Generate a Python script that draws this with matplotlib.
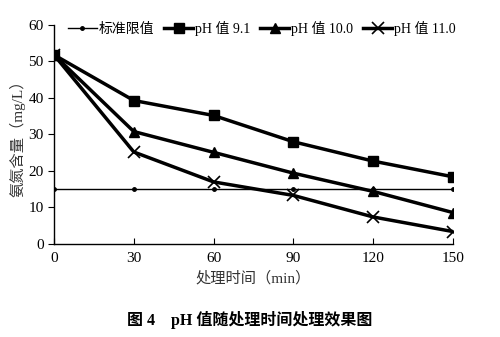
import numpy as np
import matplotlib.pyplot as plt

plt.rcParams['font.family'] = ['Liberation Serif', 'Noto Sans CJK SC']

times = [0, 30, 60, 90, 120, 150]
limit = [15, 15, 15, 15, 15, 15]
ph91 = [51.8, 39.3, 35.2, 28.0, 22.7, 18.4]
ph100 = [51.8, 30.8, 25.1, 19.4, 14.4, 8.6]
ph110 = [51.8, 25.2, 17.0, 13.3, 7.4, 3.4]

fig = plt.figure(figsize=(5, 3.37), dpi=100)
ax = fig.add_axes([0.108, 0.276, 0.798, 0.65])

ax.plot(times, limit, color='black', lw=1.0, marker='.', ms=5, label='标准限值')
ax.plot(times, ph91, color='black', lw=2.5, marker='s', ms=7.5, label='pH 值 9.1')
ax.plot(times, ph100, color='black', lw=2.5, marker='^', ms=7.5, label='pH 值 10.0')
ax.plot(times, ph110, color='black', lw=2.5, marker='x', ms=8, mew=1.2, label='pH 值 11.0')

ax.set_xlim(0, 150)
ax.set_ylim(0, 60)
ax.set_xticks(times)
ax.set_yticks(range(0, 61, 10))
ax.tick_params(axis='x', direction='in', length=4, labelsize=11, pad=6)
ax.tick_params(axis='y', direction='out', length=4, labelsize=11)
ax.spines['top'].set_visible(False)
ax.spines['right'].set_visible(False)
for s in ('left', 'bottom'):
    ax.spines[s].set_linewidth(1.0)

ax.set_xlabel('处理时间（min）', fontsize=11, color='#333333', labelpad=4)
ax.set_ylabel('氨氮含量（mg/L）', fontsize=11, color='#333333', labelpad=2)

ax.legend(loc='upper left', bbox_to_anchor=(0.02, 1.045), ncol=4, frameon=False,
          fontsize=10, handlelength=2.1, handletextpad=0.15, columnspacing=0.7,
          borderaxespad=0)

fig.text(0.5, 0.035, '图 4    pH 值随处理时间处理效果图', ha='center', fontsize=11.5,
         fontweight='bold')

fig.savefig('out.png', dpi=100)
